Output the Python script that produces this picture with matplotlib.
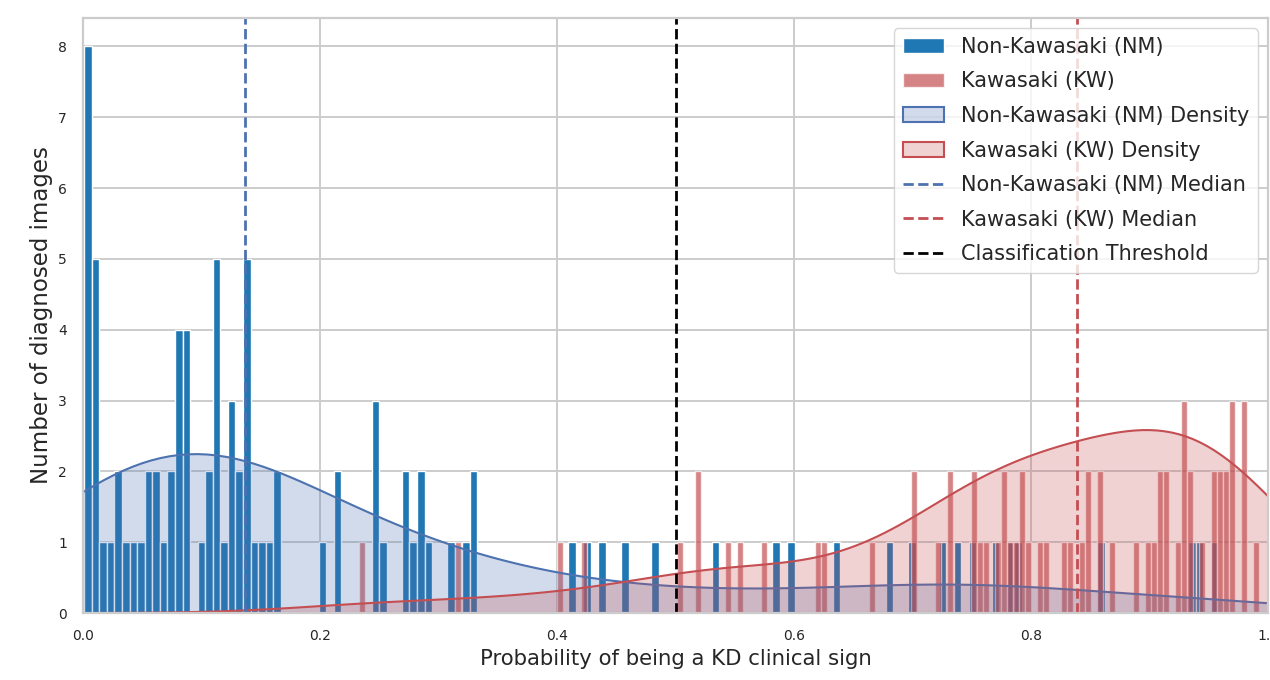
import numpy as np
import matplotlib.pyplot as plt
import seaborn as sns

# probability bins (bin centre) and how many images fall in each
nm_probs = [0.0042, 0.0107, 0.0169, 0.0236, 0.0299, 0.0363, 0.0426, 0.0489, 0.0553,
            0.0618, 0.0680, 0.0748, 0.0809, 0.0874, 0.1006, 0.1071, 0.1132, 0.1194,
            0.1259, 0.1321, 0.1384, 0.1450, 0.1512, 0.1577, 0.1642,
            0.2022, 0.2156, 0.2476, 0.2535, 0.2726, 0.2791, 0.2858, 0.2920, 0.3111,
            0.3240, 0.3302,
            0.4131, 0.4276, 0.4387, 0.4581, 0.4837, 0.5348, 0.5854, 0.5986, 0.6377,
            0.6827, 0.7012, 0.7262, 0.7392, 0.7513, 0.7721, 0.7822, 0.7862, 0.8613,
            0.9376, 0.9435, 0.9550]
nm_counts = [8, 5, 1, 1, 2, 1, 1, 1, 2,
             2, 1, 2, 4, 4, 1, 2, 5, 1,
             3, 2, 5, 1, 1, 1, 2,
             1, 2, 3, 1, 2, 1, 2, 1, 1,
             1, 2,
             1, 1, 1, 1, 1, 1, 1, 1, 1,
             1, 1, 1, 1, 1, 1, 1, 1, 1,
             1, 1, 1]

kw_probs = [0.2358, 0.3168, 0.4020, 0.4227, 0.5038, 0.5185, 0.5441, 0.5542, 0.5743,
            0.6197, 0.6250, 0.6658, 0.7012, 0.7209, 0.7312, 0.7513, 0.7566, 0.7618,
            0.7721, 0.7774, 0.7822, 0.7862, 0.7917, 0.7974,
            0.8060, 0.8120, 0.8270, 0.8330, 0.8410, 0.8490, 0.8580, 0.8670, 0.8880,
            0.8970, 0.9020, 0.9080, 0.9130, 0.9220, 0.9280, 0.9330, 0.9430, 0.9540,
            0.9590, 0.9640, 0.9690, 0.9790, 0.9900]
kw_counts = [1, 1, 1, 1, 1, 2, 1, 1, 1,
             1, 1, 1, 2, 1, 2, 2, 1, 1,
             1, 2, 1, 1, 2, 1,
             1, 1, 1, 1, 1, 2, 2, 1, 1,
             1, 1, 2, 2, 1, 3, 2, 1, 2,
             2, 2, 3, 3, 1]

nm_median = 0.137
kw_median = 0.839
threshold = 0.5

labels = ["Non-Kawasaki (NM)", "Kawasaki (KW)",
          "Non-Kawasaki (NM) Density", "Kawasaki (KW) Density",
          "Non-Kawasaki (NM) Median", "Kawasaki (KW) Median",
          "Classification Threshold"]

nm = np.repeat(nm_probs, nm_counts)
kw = np.repeat(kw_probs, kw_counts)


def bin_edges(x, n=150):
    # 150 bins over the data range, centred on the read values
    w = (x.max() - x.min()) / (n - 1)
    return np.linspace(x.min() - w / 2, x.max() + w / 2, n + 1)


sns.set_style("whitegrid")
plt.rcParams['font.family'] = ['DejaVu Sans']
plt.rcParams['axes.linewidth'] = 1.6
plt.rcParams['grid.linewidth'] = 1.4

fig, ax = plt.subplots(figsize=(12.7, 6.8), dpi=100)
fig.subplots_adjust(left=0.0654, right=0.9984, bottom=0.0985, top=0.9735)

h_nm = ax.hist(nm, bins=bin_edges(nm), color="#1f77b4", edgecolor="white",
               linewidth=1)[2]
h_kw = ax.hist(kw, bins=bin_edges(kw), color="#C44E52", alpha=0.7, edgecolor="white",
               linewidth=1)[2]

sns.kdeplot(nm, ax=ax, fill=True, color="#4C72B0", alpha=0.25, linewidth=1.5)
d_nm = ax.collections[-1]
sns.kdeplot(kw, ax=ax, fill=True, color="#C44E52", alpha=0.25, linewidth=1.5)
d_kw = ax.collections[-1]

m_nm = ax.axvline(nm_median, color="#4C72B0", linestyle="--", linewidth=2)
m_kw = ax.axvline(kw_median, color="#C44E52", linestyle="--", linewidth=2)
thr = ax.axvline(threshold, color="black", linestyle="--", linewidth=2)

ax.set_xlim(0, 1)
ax.set_ylim(0, 8.4)
ax.set_xlabel("Probability of being a KD clinical sign", fontsize=15.3)
ax.set_ylabel("Number of diagnosed images", fontsize=16.5)
ax.tick_params(labelsize=10, pad=8)

ax.legend(handles=[h_nm, h_kw, d_nm, d_kw, m_nm, m_kw, thr], labels=labels,
          loc="upper right", fontsize=15, labelspacing=0.7)

plt.savefig("out.png", dpi=100)
plt.close()
